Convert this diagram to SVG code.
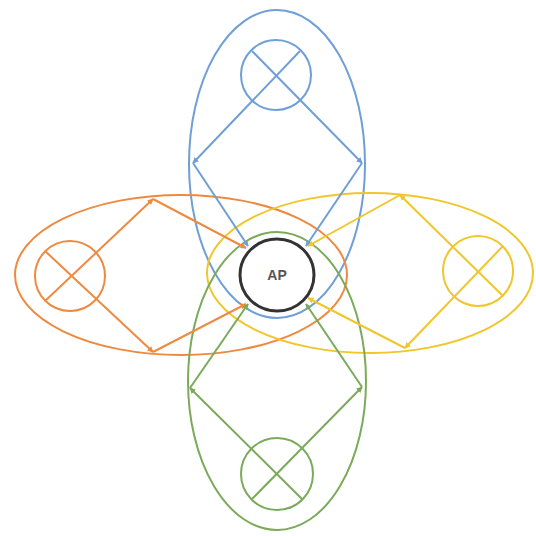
<svg xmlns="http://www.w3.org/2000/svg" width="536" height="536" viewBox="0 0 536 536">
<defs>
<style>
.b{stroke:#6f9fd6}.o{stroke:#ee8a40}.y{stroke:#f0c62a}.g{stroke:#7aaa5a}
.s{fill:none;stroke-width:2}
text{font-family:"Liberation Sans",Arial,sans-serif}
</style>
<marker id="mb" viewBox="0 0 10 10" refX="9" refY="5" markerWidth="6" markerHeight="6" markerUnits="userSpaceOnUse" orient="auto"><path d="M0,0L10,5L0,10z" fill="#6f9fd6"/></marker>
<marker id="mo" viewBox="0 0 10 10" refX="9" refY="5" markerWidth="6" markerHeight="6" markerUnits="userSpaceOnUse" orient="auto"><path d="M0,0L10,5L0,10z" fill="#ee8a40"/></marker>
<marker id="my" viewBox="0 0 10 10" refX="9" refY="5" markerWidth="6" markerHeight="6" markerUnits="userSpaceOnUse" orient="auto"><path d="M0,0L10,5L0,10z" fill="#f0c62a"/></marker>
<marker id="mg" viewBox="0 0 10 10" refX="9" refY="5" markerWidth="6" markerHeight="6" markerUnits="userSpaceOnUse" orient="auto"><path d="M0,0L10,5L0,10z" fill="#7aaa5a"/></marker>
</defs>
<rect width="536" height="536" fill="#fff"/>
<g id="groups" class="s">
<ellipse class="b" cx="277" cy="164" rx="88" ry="154"/>
<ellipse class="o" cx="181" cy="275" rx="166" ry="80"/>
<ellipse class="y" cx="370" cy="273" rx="163" ry="80"/>
<ellipse class="g" cx="277" cy="381" rx="89" ry="149"/>
</g>
<g id="node-blue" class="s b"><ellipse cx="276" cy="75" rx="35" ry="35"/></g>
<g id="node-orange" class="s o"><ellipse cx="70" cy="276" rx="35" ry="35"/></g>
<g id="node-yellow" class="s y"><ellipse cx="478" cy="271" rx="35" ry="35"/></g>
<g id="node-green" class="s g"><ellipse cx="277" cy="474" rx="36" ry="36"/></g>
<g id="connectors" class="s">
<line class="b" x1="300" y1="51" x2="193" y2="163" marker-end="url(#mb)"/>
<line class="b" x1="252" y1="51" x2="362" y2="163" marker-end="url(#mb)"/>
<line class="b" x1="193" y1="163" x2="248" y2="246" marker-end="url(#mb)"/>
<line class="b" x1="362" y1="163" x2="306" y2="246" marker-end="url(#mb)"/>
<line class="o" x1="45" y1="301" x2="153" y2="199" marker-end="url(#mo)"/>
<line class="o" x1="45" y1="251" x2="153" y2="352" marker-end="url(#mo)"/>
<line class="o" x1="153" y1="199" x2="246" y2="248" marker-end="url(#mo)"/>
<line class="o" x1="153" y1="352" x2="246" y2="304" marker-end="url(#mo)"/>
<line class="y" x1="503" y1="296" x2="400" y2="195" marker-end="url(#my)"/>
<line class="y" x1="503" y1="246" x2="405" y2="348" marker-end="url(#my)"/>
<line class="y" x1="400" y1="195" x2="308" y2="246" marker-end="url(#my)"/>
<line class="y" x1="405" y1="348" x2="308" y2="298" marker-end="url(#my)"/>
<line class="g" x1="302" y1="499" x2="190" y2="388" marker-end="url(#mg)"/>
<line class="g" x1="252" y1="499" x2="362" y2="387" marker-end="url(#mg)"/>
<line class="g" x1="190" y1="388" x2="248" y2="304" marker-end="url(#mg)"/>
<line class="g" x1="362" y1="387" x2="306" y2="304" marker-end="url(#mg)"/>
</g>
<g id="AP">
<ellipse cx="277" cy="275" rx="37" ry="36" fill="#fff" stroke="#333" stroke-width="3"/>
<text x="277" y="280" text-anchor="middle" font-size="14" font-weight="bold" fill="#555">AP</text>
</g>
</svg>
